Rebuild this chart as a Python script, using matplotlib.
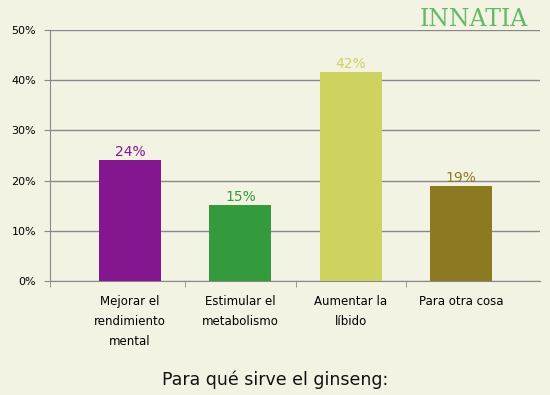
import matplotlib.pyplot as plt

categories = ["Mejorar el\nrendimiento\nmental", "Estimular el\nmetabolismo",
              "Aumentar la\nlíbido", "Para otra cosa"]
values = [24.2, 15.2, 41.7, 19.0]
labels = ["24%", "15%", "42%", "19%"]
colors = ["#84168F", "#339A3D", "#CDD35E", "#8B7A22"]
bg = "#F3F3E3"

fig = plt.figure(figsize=(5.5, 3.95), dpi=100, facecolor=bg)
ax = fig.add_axes([50 / 550, 1 - 281 / 395, 490 / 550, 251 / 395], facecolor=bg)

x = range(len(categories))
ax.bar(x, values, width=0.56, color=colors, zorder=3)
for xi, v, lab, c in zip(x, values, labels, colors):
    ax.text(xi, v + 0.1, lab, ha="center", va="bottom", color=c, fontsize=10, zorder=4)

ax.set_ylim(0, 50)
ax.set_xlim(-0.725, 3.715)
ax.set_yticks(range(0, 51, 10))
ax.set_yticklabels([f"{t}%" for t in range(0, 51, 10)], fontsize=8)
ax.yaxis.grid(True, color="#888888", linewidth=1, zorder=0)
ax.tick_params(axis="y", length=4, color="#888888", pad=6)

# category separators as minor ticks, labels at centers
ax.set_xticks([-0.725, 0.5, 1.5, 2.5], minor=True)
ax.set_xticks(list(x))
ax.set_xticklabels(categories, fontsize=8.5, linespacing=1.7, va="top")
ax.tick_params(axis="x", which="major", length=0, pad=10)
ax.tick_params(axis="x", which="minor", length=4, color="#888888")

for side in ["top", "right"]:
    ax.spines[side].set_visible(False)
for side in ["left", "bottom"]:
    ax.spines[side].set_color("#888888")

fig.text(0.5, 1 - 380 / 395, "Para qué sirve el ginseng:", ha="center", va="center",
         fontsize=12.5, color="#111111")
fig.text(474 / 550, 1 - 20 / 395, "INNATIA", ha="center", va="center",
         fontsize=17, color="#4CAF50", family="DejaVu Serif", alpha=0.85)

fig.savefig("out.png", dpi=100, facecolor=bg)
